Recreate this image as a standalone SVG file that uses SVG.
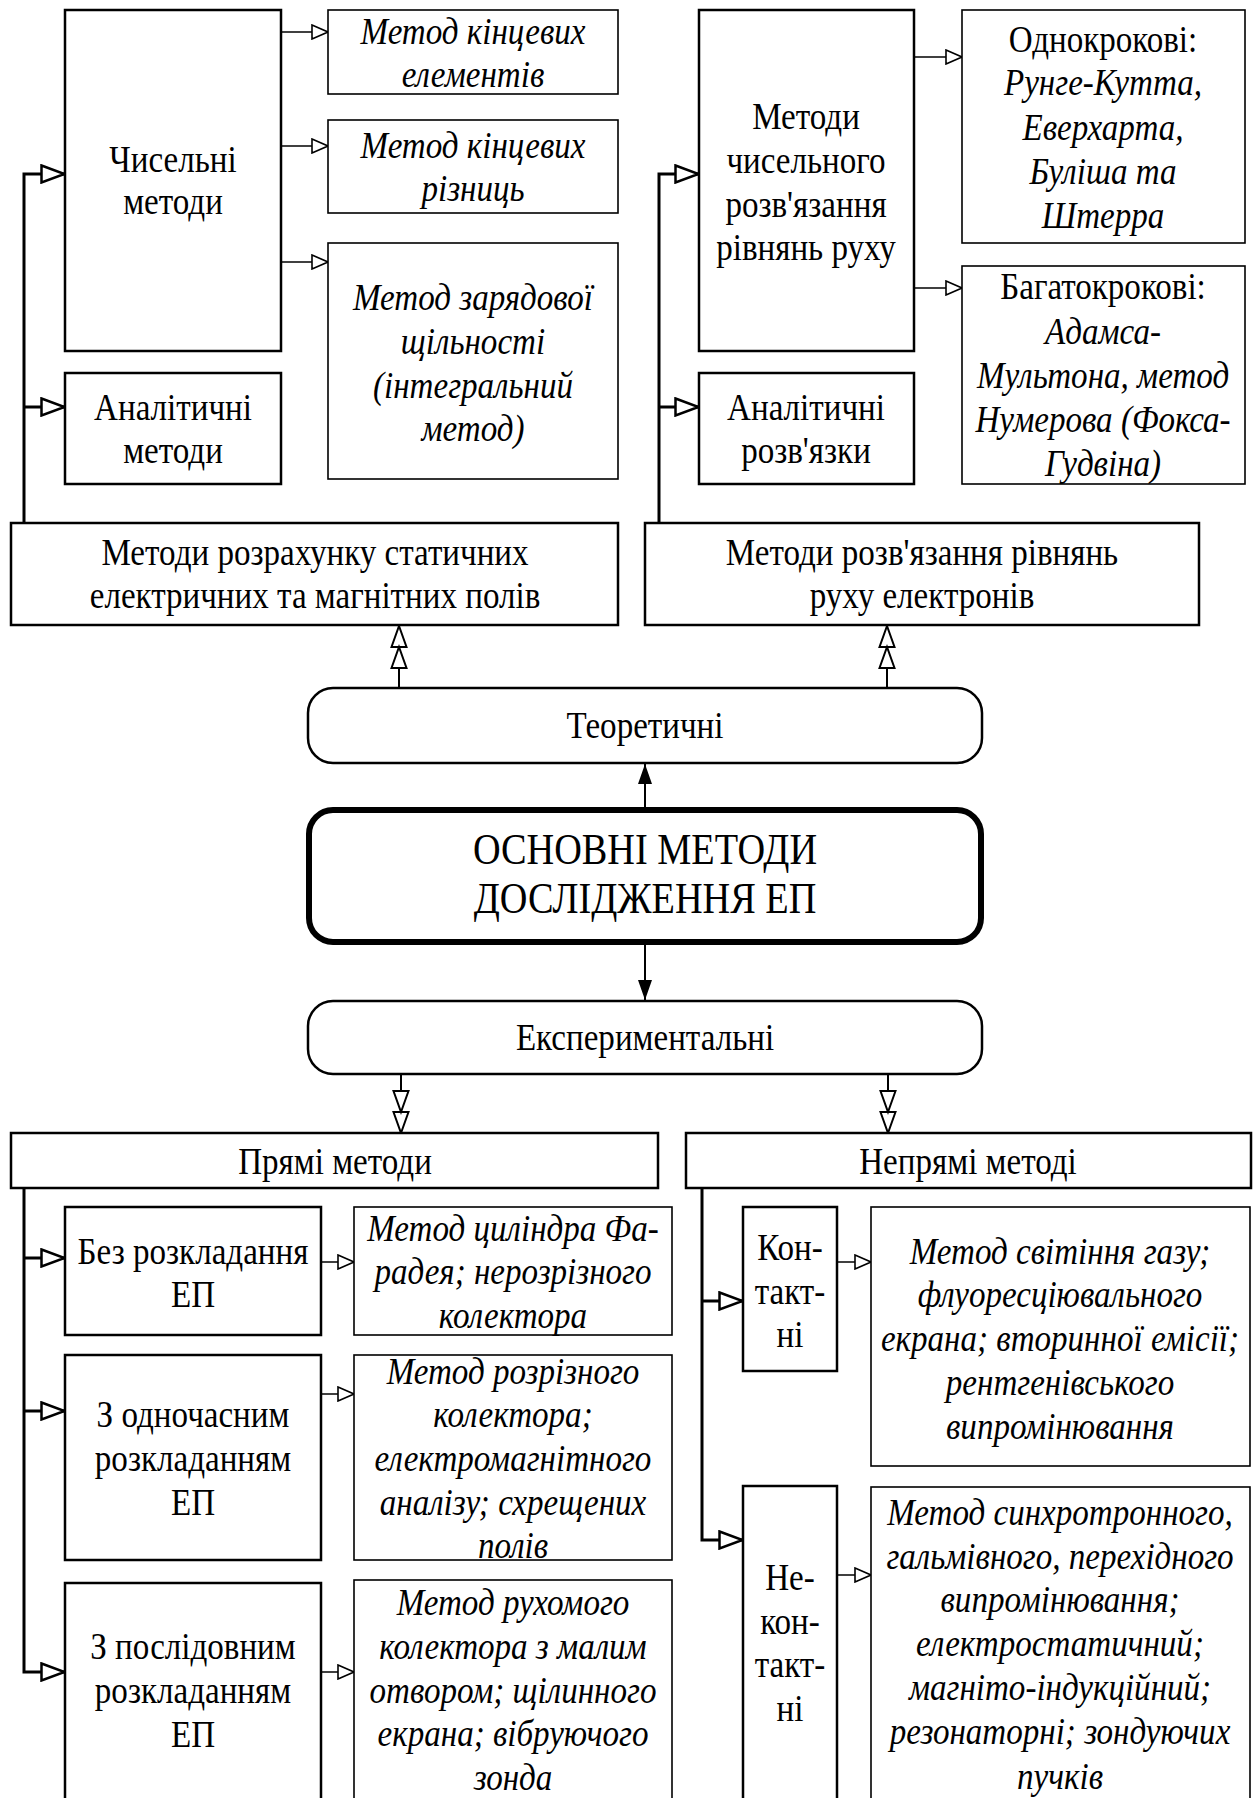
<svg xmlns="http://www.w3.org/2000/svg" width="1253" height="1798" viewBox="0 0 1253 1798">
<style>
.box{fill:#fff;stroke:#000;stroke-width:2.5}
.ibox{fill:#fff;stroke:#000;stroke-width:1.6}
.rnd{fill:#fff;stroke:#000;stroke-width:2.5}
.main{fill:#fff;stroke:#000;stroke-width:6}
text{font-family:"Liberation Serif","Times New Roman",serif;font-size:38px;text-anchor:middle;fill:#000}
.i{font-style:italic}
.big{font-size:44px}
.bus{fill:none;stroke:#000;stroke-width:3}
.thin{fill:none;stroke:#000;stroke-width:1.6}
.mid{fill:none;stroke:#000;stroke-width:2}
</style>
<defs>
<marker id="hb" viewBox="0 0 26 20" refX="25" refY="10" markerWidth="26" markerHeight="20" markerUnits="userSpaceOnUse" orient="auto">
<path d="M1.5,1.5 L24.5,10 L1.5,18.5 Z" fill="#fff" stroke="#000" stroke-width="2.5"/>
</marker>
<marker id="hs" viewBox="0 0 18 16" refX="17" refY="8" markerWidth="18" markerHeight="16" markerUnits="userSpaceOnUse" orient="auto">
<path d="M1,1 L17,8 L1,15 Z" fill="#fff" stroke="#000" stroke-width="1.6"/>
</marker>
<marker id="dbl" viewBox="0 0 44 18" refX="43" refY="9" markerWidth="44" markerHeight="18" markerUnits="userSpaceOnUse" orient="auto">
<path d="M1,1.5 L22,9 L1,16.5 Z M22,1.5 L43,9 L22,16.5 Z" fill="#fff" stroke="#000" stroke-width="2"/>
</marker>
<marker id="fil" viewBox="0 0 20 14" refX="20" refY="7" markerWidth="20" markerHeight="14" markerUnits="userSpaceOnUse" orient="auto">
<path d="M0,0 L20,7 L0,14 Z" fill="#000"/>
</marker>
</defs>

<g id="connectors">
<path class="bus" d="M24,523 V174 H65" marker-end="url(#hb)"/>
<path class="bus" d="M24,407 H65" marker-end="url(#hb)"/>
<path class="bus" d="M659,523 V174 H699" marker-end="url(#hb)"/>
<path class="bus" d="M659,407 H699" marker-end="url(#hb)"/>
<path class="thin" d="M281,32 H328" marker-end="url(#hs)"/>
<path class="thin" d="M281,146 H328" marker-end="url(#hs)"/>
<path class="thin" d="M281,262 H328" marker-end="url(#hs)"/>
<path class="thin" d="M914,57 H962" marker-end="url(#hs)"/>
<path class="thin" d="M914,288 H962" marker-end="url(#hs)"/>
<path class="mid" d="M399,688 V626" marker-end="url(#dbl)"/>
<path class="mid" d="M887,688 V626" marker-end="url(#dbl)"/>
<path class="mid" d="M645,809 V764" marker-end="url(#fil)"/>
<path class="mid" d="M645,943 V1000" marker-end="url(#fil)"/>
<path class="mid" d="M401,1074 V1133" marker-end="url(#dbl)"/>
<path class="mid" d="M888,1074 V1133" marker-end="url(#dbl)"/>
<path class="bus" d="M24,1188 V1672 H65" marker-end="url(#hb)"/>
<path class="bus" d="M24,1258 H65" marker-end="url(#hb)"/>
<path class="bus" d="M24,1411 H65" marker-end="url(#hb)"/>
<path class="thin" d="M321,1262 H354" marker-end="url(#hs)"/>
<path class="thin" d="M321,1394 H354" marker-end="url(#hs)"/>
<path class="thin" d="M321,1672 H354" marker-end="url(#hs)"/>
<path class="bus" d="M702,1188 V1540 H743" marker-end="url(#hb)"/>
<path class="bus" d="M702,1301 H743" marker-end="url(#hb)"/>
<path class="thin" d="M837,1262 H871" marker-end="url(#hs)"/>
<path class="thin" d="M837,1575 H871" marker-end="url(#hs)"/>
</g>

<g id="n-chyselni">
<rect class="box" x="65" y="10" width="216" height="341"/>
<g transform="translate(173 0) scale(0.87 1)">
<text x="0" y="172">Чисельні</text>
<text x="0" y="214">методи</text>
</g>
</g>
<g id="n-analit-metody">
<rect class="box" x="65" y="373" width="216" height="111"/>
<g transform="translate(173 0) scale(0.87 1)">
<text x="0" y="420">Аналітичні</text>
<text x="0" y="463">методи</text>
</g>
</g>
<g id="n-mke">
<rect class="ibox" x="328" y="10" width="290" height="84"/>
<g transform="translate(473 0) scale(0.87 1)">
<text class="i" x="0" y="44">Метод кінцевих</text>
<text class="i" x="0" y="87">елементів</text>
</g>
</g>
<g id="n-mkr">
<rect class="ibox" x="328" y="120" width="290" height="93"/>
<g transform="translate(473 0) scale(0.87 1)">
<text class="i" x="0" y="158">Метод кінцевих</text>
<text class="i" x="0" y="201">різниць</text>
</g>
</g>
<g id="n-mzs">
<rect class="ibox" x="328" y="243" width="290" height="236"/>
<g transform="translate(473 0) scale(0.87 1)">
<text class="i" x="0" y="310">Метод  зарядової</text>
<text class="i" x="0" y="354">щільності</text>
<text class="i" x="0" y="398">(інтегральний</text>
<text class="i" x="0" y="441">метод)</text>
</g>
</g>
<g id="n-chys-rozv">
<rect class="box" x="699" y="10" width="215" height="341"/>
<g transform="translate(806 0) scale(0.87 1)">
<text x="0" y="129">Методи</text>
<text x="0" y="173">чисельного</text>
<text x="0" y="217">розв'язання</text>
<text x="0" y="260">рівнянь руху</text>
</g>
</g>
<g id="n-analit-rozv">
<rect class="box" x="699" y="373" width="215" height="111"/>
<g transform="translate(806 0) scale(0.87 1)">
<text x="0" y="420">Аналітичні</text>
<text x="0" y="463">розв'язки</text>
</g>
</g>
<g id="n-odnokrok">
<rect class="ibox" x="962" y="10" width="283" height="233"/>
<g transform="translate(1103 0) scale(0.87 1)">
<text x="0" y="52">Однокрокові:</text>
<text class="i" x="0" y="95">Рунге-Кутта,</text>
<text class="i" x="0" y="140">Еверхарта,</text>
<text class="i" x="0" y="184">Буліша та</text>
<text class="i" x="0" y="228">Штерра</text>
</g>
</g>
<g id="n-bagatokrok">
<rect class="ibox" x="962" y="266" width="283" height="218"/>
<g transform="translate(1103 0) scale(0.87 1)">
<text x="0" y="299">Багатокрокові:</text>
<text class="i" x="0" y="344">Адамса-</text>
<text class="i" x="0" y="388">Мультона, метод</text>
<text class="i" x="0" y="432">Нумерова (Фокса-</text>
<text class="i" x="0" y="476">Гудвіна)</text>
</g>
</g>
<g id="n-rozrah">
<rect class="box" x="11" y="523" width="607" height="102"/>
<g transform="translate(315 0) scale(0.87 1)">
<text x="0" y="565">Методи розрахунку статичних</text>
<text x="0" y="608">електричних та магнітних полів</text>
</g>
</g>
<g id="n-rozv-rivn">
<rect class="box" x="645" y="523" width="554" height="102"/>
<g transform="translate(922 0) scale(0.87 1)">
<text x="0" y="565">Методи розв'язання рівнянь</text>
<text x="0" y="608">руху електронів</text>
</g>
</g>
<g id="n-teor">
<rect class="rnd" x="308" y="688" width="674" height="75" rx="25" ry="25"/>
<g transform="translate(645 0) scale(0.87 1)">
<text x="0" y="738">Теоретичні</text>
</g>
</g>
<g id="n-main">
<rect class="main" x="309" y="810" width="672" height="132" rx="24" ry="24"/>
<g transform="translate(645 0) scale(0.87 1)">
<text class="big" x="0" y="864">ОСНОВНІ МЕТОДИ</text>
<text class="big" x="0" y="913">ДОСЛІДЖЕННЯ ЕП</text>
</g>
</g>
<g id="n-exp">
<rect class="rnd" x="308" y="1001" width="674" height="73" rx="25" ry="25"/>
<g transform="translate(645 0) scale(0.87 1)">
<text x="0" y="1050">Експериментальні</text>
</g>
</g>
<g id="n-pryami">
<rect class="box" x="11" y="1133" width="647" height="55"/>
<g transform="translate(335 0) scale(0.87 1)">
<text x="0" y="1174">Прямі методи</text>
</g>
</g>
<g id="n-nepryami">
<rect class="box" x="686" y="1133" width="565" height="55"/>
<g transform="translate(968 0) scale(0.87 1)">
<text x="0" y="1174">Непрямі методі</text>
</g>
</g>
<g id="n-bez">
<rect class="box" x="65" y="1207" width="256" height="128"/>
<g transform="translate(193 0) scale(0.87 1)">
<text x="0" y="1264">Без розкладання</text>
<text x="0" y="1307">ЕП</text>
</g>
</g>
<g id="n-cyl">
<rect class="ibox" x="354" y="1207" width="318" height="128"/>
<g transform="translate(513 0) scale(0.87 1)">
<text class="i" x="0" y="1241">Метод циліндра Фа-</text>
<text class="i" x="0" y="1284">радея; нерозрізного</text>
<text class="i" x="0" y="1328">колектора</text>
</g>
</g>
<g id="n-odnoch">
<rect class="box" x="65" y="1355" width="256" height="205"/>
<g transform="translate(193 0) scale(0.87 1)">
<text x="0" y="1427">З одночасним</text>
<text x="0" y="1471">розкладанням</text>
<text x="0" y="1515">ЕП</text>
</g>
</g>
<g id="n-rozriz">
<rect class="ibox" x="354" y="1355" width="318" height="205"/>
<g transform="translate(513 0) scale(0.87 1)">
<text class="i" x="0" y="1384">Метод розрізного</text>
<text class="i" x="0" y="1427">колектора;</text>
<text class="i" x="0" y="1471">електромагнітного</text>
<text class="i" x="0" y="1515">аналізу; схрещених</text>
<text class="i" x="0" y="1558">полів</text>
</g>
</g>
<g id="n-poslid">
<rect class="box" x="65" y="1583" width="256" height="240"/>
<g transform="translate(193 0) scale(0.87 1)">
<text x="0" y="1659">З послідовним</text>
<text x="0" y="1703">розкладанням</text>
<text x="0" y="1747">ЕП</text>
</g>
</g>
<g id="n-ruhom">
<rect class="ibox" x="354" y="1580" width="318" height="240"/>
<g transform="translate(513 0) scale(0.87 1)">
<text class="i" x="0" y="1615">Метод рухомого</text>
<text class="i" x="0" y="1659">колектора з малим</text>
<text class="i" x="0" y="1703">отвором; щілинного</text>
<text class="i" x="0" y="1746">екрана; вібруючого</text>
<text class="i" x="0" y="1790">зонда</text>
</g>
</g>
<g id="n-kontakt">
<rect class="box" x="743" y="1207" width="94" height="164"/>
<g transform="translate(790 0) scale(0.87 1)">
<text x="0" y="1260">Кон-</text>
<text x="0" y="1304">такт-</text>
<text x="0" y="1347">ні</text>
</g>
</g>
<g id="n-svit">
<rect class="ibox" x="871" y="1207" width="379" height="259"/>
<g transform="translate(1060 0) scale(0.87 1)">
<text class="i" x="0" y="1264">Метод світіння газу;</text>
<text class="i" x="0" y="1307">флуоресціювального</text>
<text class="i" x="0" y="1351">екрана; вторинної емісії;</text>
<text class="i" x="0" y="1395">рентгенівського</text>
<text class="i" x="0" y="1439">випромінювання</text>
</g>
</g>
<g id="n-nekontakt">
<rect class="box" x="743" y="1486" width="94" height="340"/>
<g transform="translate(790 0) scale(0.87 1)">
<text x="0" y="1590">Не-</text>
<text x="0" y="1634">кон-</text>
<text x="0" y="1677">такт-</text>
<text x="0" y="1721">ні</text>
</g>
</g>
<g id="n-synhr">
<rect class="ibox" x="871" y="1487" width="379" height="340"/>
<g transform="translate(1060 0) scale(0.87 1)">
<text class="i" x="0" y="1525">Метод синхротронного,</text>
<text class="i" x="0" y="1569">гальмівного, перехідного</text>
<text class="i" x="0" y="1612">випромінювання;</text>
<text class="i" x="0" y="1656">електростатичний;</text>
<text class="i" x="0" y="1700">магніто-індукційний;</text>
<text class="i" x="0" y="1744">резонаторні; зондуючих</text>
<text class="i" x="0" y="1789">пучків</text>
</g>
</g>
</svg>
